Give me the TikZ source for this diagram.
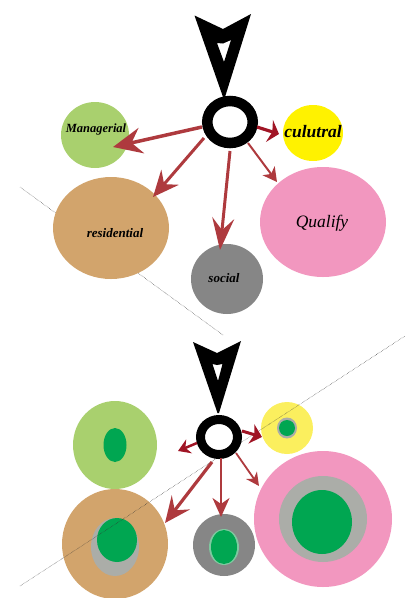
\documentclass[tikz,border=0pt]{standalone}
\usepackage{fontspec}
\setmainfont{Liberation Serif}
\usetikzlibrary{shapes.geometric,arrows.meta}
\definecolor{leaf}{HTML}{A9D06E}
\definecolor{tan1}{HTML}{D2A46C}
\definecolor{gray1}{HTML}{868686}
\definecolor{pink1}{HTML}{F297BF}
\definecolor{yel1}{HTML}{FFF200}
\definecolor{yel2}{HTML}{FBEF5E}
\definecolor{core}{HTML}{00A651}
\definecolor{halo}{HTML}{ABADA8}
\definecolor{brick}{HTML}{AE3A3E}
\definecolor{wine}{HTML}{A01525}
\definecolor{pale}{HTML}{7FC9A0}
\tikzset{
  blob/.style n args={3}{ellipse,fill=#1,draw=none,inner sep=0pt,outer sep=0pt,minimum width=2*#2pt,minimum height=2*#3pt},
  guide/.style={draw=black!80,line width=0.45pt,densely dotted},
  barb/.style n args={5}{draw=#1,line width=#2pt,-{Stealth[length=#3pt,width=#4pt,inset=#5pt,fill=#1]}},
  lab/.style={text=black,inner sep=0pt}
}
\begin{document}
\begin{tikzpicture}[x=1pt,y=-1pt]
\useasboundingbox (0,0) rectangle (411,598);
% ---- upper figure ----
\coordinate (gA) at (20,187);
\coordinate (gB) at (223,335);
\draw[guide] (gA) -- (gB);
\node[blob={leaf}{34}{33}] (mgrT) at (95,135) {};
\node[blob={tan1}{58}{51}] (resT) at (111,228) {};
\node[blob={gray1}{36}{35}] (socT) at (227,279) {};
\node[blob={pink1}{63}{55}] (quaT) at (323,222) {};
\node[blob={yel1}{30}{28}] (culT) at (313,133) {};
\fill[black,even odd rule] (194.5,15.5) -- (223,29) -- (251,14) -- (225,97) -- (223,97) -- cycle
  (217,43) -- (223,43.5) -- (231,40) -- (224,62) -- cycle;
\node[ellipse,draw=black,fill=white,line width=10.5pt,inner sep=0pt,minimum width=45.5pt,minimum height=42pt,outer sep=0pt] (ringT) at (230,122) {};
\coordinate (mgrTipT) at (113,147);
\coordinate (resTipT) at (153,197);
\coordinate (socTipT) at (220,250);
\coordinate (quaTipT) at (277,182);
\coordinate (culTipT) at (279,134);
\coordinate (a1) at (202,127);
\coordinate (a2) at (204,138);
\coordinate (a3) at (230,151);
\coordinate (a4) at (248,143);
\coordinate (a5) at (257,127);
\draw[barb={brick}{3.5}{29}{26}{10}] (a1) -- (mgrTipT);
\draw[barb={brick}{3}{26}{23}{9}] (a2) -- (resTipT);
\draw[barb={brick}{3}{32}{22}{12}] (a3) -- (socTipT);
\draw[barb={brick}{2}{14}{15}{4}] (a4) -- (quaTipT);
\draw[barb={wine}{3.2}{10}{23}{3}] (a5) -- (culTipT);
\node[lab,font=\itshape\bfseries\fontsize{12.5}{14}\selectfont] (tM) at (96,129.5) {Managerial};
\node[lab,font=\itshape\bfseries\fontsize{13}{15}\selectfont] (tR) at (115,233) {residential};
\node[lab,font=\itshape\bfseries\fontsize{13}{15}\selectfont] (tS) at (224,278) {social};
\node[lab,font=\itshape\bfseries\fontsize{17.5}{20}\selectfont] (tC) at (313,132) {culutral};
\node[lab,font=\itshape\fontsize{17.5}{20}\selectfont] (tQ) at (322,223.5) {Qualify};
% ---- lower figure ----
\node[blob={leaf}{42}{44}] (mgrB) at (115,445) {};
\node[blob={core}{11.5}{17}] (mgrC) at (115,445) {};
\node[blob={tan1}{53}{55}] (resB) at (115,544) {};
\node[blob={halo}{24}{29}] (resH) at (115,547) {};
\node[blob={core}{20}{22}] (resC) at (117,540) {};
\node[blob={gray1}{31}{31}] (socB) at (224,545) {};
\node[blob={pale}{15}{18}] (socH) at (224,547) {};
\node[blob={core}{13}{17}] (socC) at (224,547) {};
\node[blob={pink1}{69}{68}] (quaB) at (323,519) {};
\node[blob={halo}{44}{43}] (quaH) at (323,519) {};
\node[blob={core}{30}{32}] (quaC) at (322,522) {};
\node[blob={yel2}{26}{26}] (culB) at (287,428) {};
\node[blob={halo}{10}{10.5}] (culH) at (287,428) {};
\node[blob={core}{8}{8}] (culC) at (287,428) {};
\coordinate (gC) at (20,586);
\coordinate (gD) at (405,336);
\draw[guide] (gC) -- (gD);
\fill[black,even odd rule] (193,342) -- (217,353) -- (241,341) -- (219,413) -- (217.5,413) -- cycle
  (212.5,364) -- (217,365) -- (222.5,364) -- (218,381) -- cycle;
\node[ellipse,draw=black,fill=white,line width=9pt,inner sep=0pt,minimum width=37pt,minimum height=35pt,outer sep=0pt] (ringB) at (219,437) {};
\coordinate (mgrTipB) at (178,451);
\coordinate (resTipB) at (165,523);
\coordinate (socTipB) at (221,517);
\coordinate (quaTipB) at (259,486);
\coordinate (culTipB) at (262,437);
\coordinate (b1) at (197,443);
\coordinate (b2) at (212,462);
\coordinate (b3) at (221,458);
\coordinate (b4) at (236,453);
\coordinate (b5) at (242,431);
\draw[barb={wine}{2.5}{12}{15}{4}] (b1) -- (mgrTipB);
\draw[barb={brick}{3.2}{26}{23}{10}] (b2) -- (resTipB);
\draw[barb={brick}{2.5}{19}{17}{6}] (b3) -- (socTipB);
\draw[barb={brick}{1.8}{13}{13}{4}] (b4) -- (quaTipB);
\draw[barb={wine}{3}{11}{20}{3}] (b5) -- (culTipB);
\end{tikzpicture}
\end{document}
